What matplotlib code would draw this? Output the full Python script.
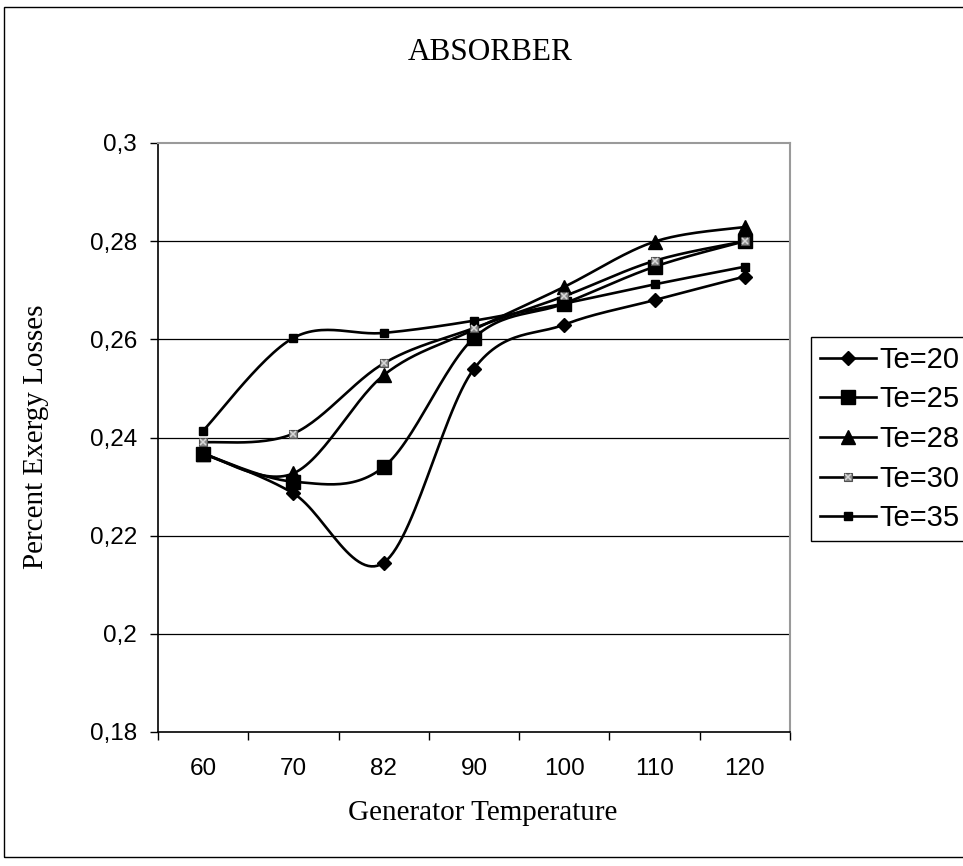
import matplotlib
matplotlib.use("Agg")
import matplotlib.pyplot as plt
import numpy as np
from matplotlib.patches import Rectangle

# ---- data ----
categories = ["60", "70", "82", "90", "100", "110", "120"]
series_names = ["Te=20", "Te=25", "Te=28", "Te=30", "Te=35"]
te20 = [0.2367, 0.2286, 0.2145, 0.2540, 0.2630, 0.2680, 0.2728]
te25 = [0.2367, 0.2310, 0.2340, 0.2603, 0.2673, 0.2748, 0.2800]
te28 = [0.2367, 0.2327, 0.2527, 0.2620, 0.2707, 0.2799, 0.2829]
te30 = [0.2390, 0.2408, 0.2551, 0.2623, 0.2688, 0.2760, 0.2800]
te35 = [0.2414, 0.2603, 0.2613, 0.2638, 0.2673, 0.2712, 0.2748]
yticks = [0.18, 0.20, 0.22, 0.24, 0.26, 0.28, 0.30]
ytick_labels = ["0,18", "0,2", "0,22", "0,24", "0,26", "0,28", "0,3"]

W, H = 963, 866
fig = plt.figure(figsize=(W / 100, H / 100), dpi=100)
fig.patch.set_facecolor("white")

# outer chart border
fig.patches.append(Rectangle((4 / W, 1 - 857 / H), 1.2, (857 - 7) / H,
                             transform=fig.transFigure, fill=False,
                             edgecolor="black", linewidth=1.0))

ax = fig.add_axes([158 / W, 1 - 732 / H, (790 - 158) / W, (732 - 143) / H])


def smooth(vals, n=30):
    """Excel-like smoothed line: cubic Bezier with Catmull-Rom control points."""
    y = np.asarray(vals, float)
    x = np.arange(len(y), dtype=float)
    P = np.column_stack([x, y])
    out = [P[0]]
    t = np.linspace(0, 1, n)[1:]
    for i in range(len(P) - 1):
        p0 = P[i - 1] if i > 0 else P[i]
        p1 = P[i]
        p2 = P[i + 1]
        p3 = P[i + 2] if i + 2 < len(P) else P[i + 1]
        c1 = p1 + (p2 - p0) / 6.0
        c2 = p2 - (p3 - p1) / 6.0
        for tt in t:
            b = ((1 - tt) ** 3) * p1 + 3 * ((1 - tt) ** 2) * tt * c1 \
                + 3 * (1 - tt) * tt ** 2 * c2 + tt ** 3 * p2
            out.append(b)
    out = np.array(out)
    return out[:, 0], out[:, 1]


styles = [
    dict(marker="D", ms=7.5, mfc="black", mec="black"),
    dict(marker="s", ms=10.5, mfc="black", mec="black"),
    dict(marker="^", ms=10.5, mfc="black", mec="black"),
    dict(marker="s", ms=5.5, mfc="#8a8a8a", mec="#505050", mew=0.8),
    dict(marker="s", ms=6, mfc="black", mec="black"),
]
all_series = [te20, te25, te28, te30, te35]
xs = np.arange(len(categories))
handles = []
for k, (name, vals, st) in enumerate(zip(series_names, all_series, styles)):
    sx, sy = smooth(vals)
    ax.plot(sx, sy, color="black", lw=1.9, zorder=3)
    ax.plot(xs, vals, linestyle="none", zorder=4, **st)
    h, = ax.plot([], [], color="black", lw=1.9, **st)
    if k == 3:
        ax.plot(xs, vals, linestyle="none", marker="x", ms=3.8, mew=1.1,
                color="#d8d8d8", zorder=5)
        hx, = ax.plot([], [], linestyle="none", marker="x", ms=3.8, mew=1.1,
                      color="#d8d8d8")
        handles.append((h, hx))
    else:
        handles.append(h)

ax.set_xlim(-0.5, len(categories) - 0.5)
ax.set_ylim(0.18, 0.30)

ax.set_yticks(yticks)
ax.set_yticklabels(ytick_labels, fontfamily="Liberation Sans", fontsize=17.5)
ax.tick_params(axis="y", direction="out", length=6, width=1, pad=9)

ax.set_xticks(np.arange(-0.5, len(categories), 1.0))
ax.set_xticklabels([])
ax.set_xticks(xs, minor=True)
ax.set_xticklabels(categories, minor=True, fontfamily="Liberation Sans", fontsize=17.5)
ax.tick_params(axis="x", which="major", direction="out", length=6, width=1)
ax.tick_params(axis="x", which="minor", length=0, pad=19)

for v in yticks[1:-1]:
    ax.axhline(v, color="black", lw=0.9, zorder=1)

for s in ["left", "bottom"]:
    ax.spines[s].set_color("black")
    ax.spines[s].set_linewidth(1.2)
for s in ["top", "right"]:
    ax.spines[s].set_color("#9a9a9a")
    ax.spines[s].set_linewidth(1.5)

fig.text(490 / W, 1 - 52 / H, "ABSORBER", ha="center", va="center",
         fontfamily="Liberation Serif", fontsize=22.5)
fig.text(36 / W, 1 - 437 / H, "Percent Exergy Losses", ha="center", va="center",
         rotation=90, fontfamily="Liberation Serif", fontsize=21)
fig.text(483 / W, 1 - 813 / H, "Generator Temperature", ha="center", va="center",
         fontfamily="Liberation Serif", fontsize=21)

leg = fig.legend(handles=handles, labels=series_names, loc="upper left",
                 bbox_to_anchor=(811 / W, 1 - 337 / H),
                 bbox_transform=fig.transFigure,
                 prop={"family": "Liberation Sans", "size": 21},
                 frameon=True, fancybox=False, edgecolor="black",
                 handlelength=1.92, handletextpad=0.12, labelspacing=0.40,
                 borderpad=0.3, borderaxespad=0, framealpha=1)
leg.get_frame().set_linewidth(1.0)

fig.savefig("out.png", dpi=100)
